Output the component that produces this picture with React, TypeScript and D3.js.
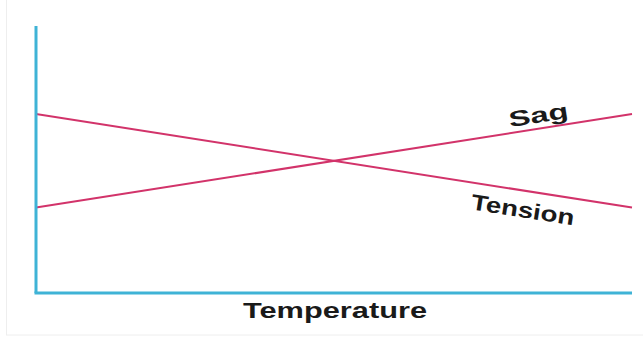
import React from "react";
import * as d3 from "d3";

const temperature = [0, 1];
const sag = [0.32, 0.67];
const tension = [0.67, 0.32];
const xLabel = "Temperature";
const seriesLabels = ["Sag", "Tension"];

export default function App() {
  const W = 643, H = 338;
  const x = d3.scaleLinear().domain([0, 1]).range([36, 632]);
  const y = d3.scaleLinear().domain([0, 1]).range([293, 26]);
  const line = d3.line<number>().x((_, i) => x(temperature[i])).y((d) => y(d));
  const lineColor = "#d2336a";
  const axisColor = "#3fb3d6";
  const sagAt = (t: number) => sag[0] + (sag[1] - sag[0]) * t;
  const tenAt = (t: number) => tension[0] + (tension[1] - tension[0]) * t;
  const ang = (Math.atan2(y(sag[1]) - y(sag[0]), x(1) - x(0)) * 180) / Math.PI;
  return (
    <svg width={W} height={H} style={{ position: "absolute", left: 0, top: 0, background: "#fff" }}
      fontFamily="'Liberation Sans', Arial, sans-serif">
      <rect x={6.5} y={-2} width={660} height={337} fill="none" stroke="#eeeeee" strokeWidth={1} />
      <path d={line(sag) || ""} fill="none" stroke={lineColor} strokeWidth={2} />
      <path d={line(tension) || ""} fill="none" stroke={lineColor} strokeWidth={2} />
      <line x1={x(0)} x2={x(0)} y1={26} y2={y(0)} stroke={axisColor} strokeWidth={3} />
      <line x1={x(0) - 1.5} x2={x(1)} y1={y(0)} y2={y(0)} stroke={axisColor} strokeWidth={3} />
      <text
        transform={`translate(${x(0.845)},${y(sagAt(0.845)) - 6}) rotate(${ang})`}
        textAnchor="middle" fontSize={22} fontWeight="bold" fill="#1a1a1a"
        textLength={60} lengthAdjust="spacingAndGlyphs">{seriesLabels[0]}</text>
      <text
        transform={`translate(${x(0.815)},${y(tenAt(0.815)) + 27}) rotate(${-ang})`}
        textAnchor="middle" fontSize={22} fill="#1a1a1a" fontWeight="600"
        textLength={104} lengthAdjust="spacingAndGlyphs">{seriesLabels[1]}</text>
      <text x={335} y={318} textAnchor="middle" fontSize={22} fontWeight="bold" fill="#1a1a1a"
        textLength={184} lengthAdjust="spacingAndGlyphs">{xLabel}</text>
    </svg>
  );
}
